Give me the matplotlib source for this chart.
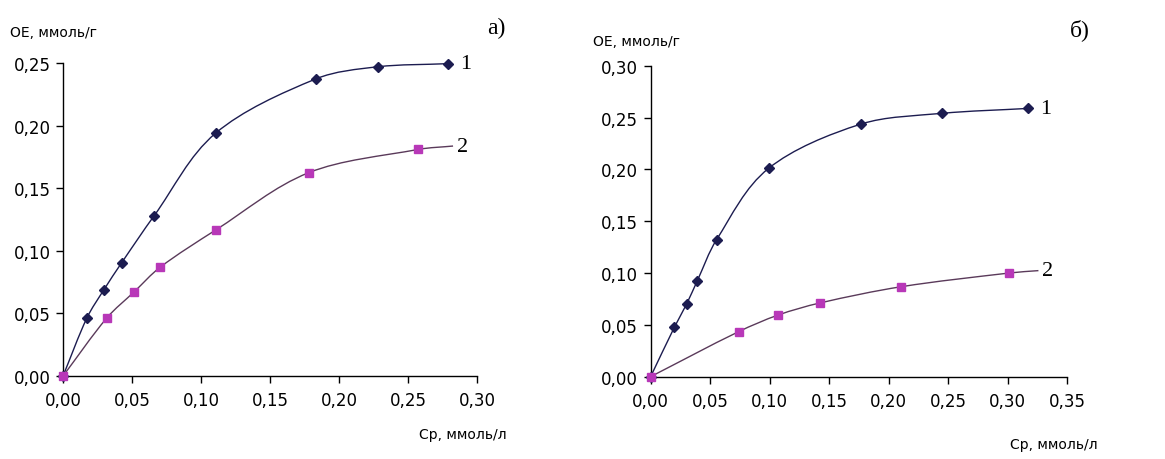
import numpy as np
import matplotlib
matplotlib.use("Agg")
from matplotlib import pyplot as plt
from matplotlib.path import Path
from matplotlib.patches import PathPatch

# panel a)
x1_a = [0.0, 0.0174, 0.0295, 0.0425, 0.066, 0.1106, 0.1836, 0.228, 0.2788]
y1_a = [0.0, 0.0466, 0.0687, 0.0905, 0.128, 0.194, 0.2375, 0.247, 0.2495]
x2_a = [0.0, 0.0319, 0.0517, 0.0705, 0.1106, 0.178, 0.2575]
y2_a = [0.0, 0.0466, 0.0674, 0.087, 0.1166, 0.1624, 0.181]
tail2_a = (0.2826, 0.1837)

# panel б)
x1_b = [0.0, 0.0199, 0.0302, 0.0392, 0.0554, 0.0991, 0.1767, 0.2444, 0.3172]
y1_b = [0.0, 0.0476, 0.0701, 0.0926, 0.1322, 0.201, 0.2437, 0.254, 0.2588]
x2_b = [0.0, 0.0739, 0.1072, 0.1422, 0.2106, 0.3013]
y2_b = [0.0, 0.0434, 0.0595, 0.0711, 0.0868, 0.1]
tail2_b = (0.3257, 0.1023)

y_label = "ОЕ, ммоль/г"
x_label = "Ср, ммоль/л"

C1 = "#1c1c50"
C2_LINE = "#5a3a5a"
C2_MARK = "#b838b8"


def smooth_path(xs, ys, xmax, ymax):
    """Smoothed line through the points (Bezier segments, tangents scaled
    by neighbouring segment lengths so uneven spacing does not overshoot)."""
    p = np.column_stack([xs, ys]).astype(float)
    q = p / [xmax, ymax]
    n = len(p)
    d = np.hypot(*np.diff(q, axis=0).T)
    tang = np.zeros_like(p)
    for i in range(1, n - 1):
        tang[i] = (p[i + 1] - p[i - 1]) / (d[i - 1] + d[i])
    verts = [p[0]]
    codes = [Path.MOVETO]
    for i in range(n - 1):
        c1 = p[i] + tang[i] * d[i] / 3.0 if i > 0 else p[i] + (p[i + 1] - p[i]) / 3.0
        c2 = p[i + 1] - tang[i + 1] * d[i] / 3.0 if i + 1 < n - 1 else p[i + 1] - (p[i + 1] - p[i]) / 3.0
        verts += [c1, c2, p[i + 1]]
        codes += [Path.CURVE4] * 3
    return Path(verts, codes)


def draw_panel(ax, x1, y1, x2, y2, tail2, xmax, ymax):
    ax.add_patch(PathPatch(smooth_path(x1, y1, xmax, ymax), fill=False,
                           edgecolor=C1, lw=1.0, clip_on=False))
    ax.add_patch(PathPatch(smooth_path(list(x2) + [tail2[0]], list(y2) + [tail2[1]], xmax, ymax),
                           fill=False, edgecolor=C2_LINE, lw=1.0, clip_on=False))
    ax.plot(x1, y1, linestyle="none", marker="D", ms=5.5, color=C1, zorder=3, clip_on=False)
    ax.plot(x2, y2, linestyle="none", marker="s", ms=6, color=C2_MARK, zorder=3, clip_on=False)

    ax.set_xlim(0, xmax)
    ax.set_ylim(0, ymax)
    ax.set_xticks(np.arange(0, xmax + 0.001, 0.05))
    ax.set_yticks(np.arange(0, ymax + 0.001, 0.05))
    ax.set_xticklabels([f"{v:.2f}".replace(".", ",") for v in ax.get_xticks()])
    ax.set_yticklabels([f"{v:.2f}".replace(".", ",") for v in ax.get_yticks()])
    for side in ("top", "right"):
        ax.spines[side].set_visible(False)
    for side in ("left", "bottom"):
        ax.spines[side].set_linewidth(1.0)
    ax.tick_params(direction="out", length=5, width=1.0, labelsize=12)
    ax.tick_params(axis="x", pad=6)
    ax.tick_params(axis="y", pad=4)

    ax.annotate("1", xy=(x1[-1], y1[-1]), xytext=(12, 0), textcoords="offset pixels",
                ha="left", va="center", family="Liberation Serif", fontsize=16)
    ax.annotate("2", xy=tail2, xytext=(4, 0), textcoords="offset pixels",
                ha="left", va="center", family="Liberation Serif", fontsize=16)


fig = plt.figure(figsize=(11.65, 4.6), dpi=100)
ax_a = fig.add_axes([0.0541, 0.1804, 0.3554, 0.6804])
ax_b = fig.add_axes([0.5585, 0.179, 0.3577, 0.676])

draw_panel(ax_a, x1_a, y1_a, x2_a, y2_a, tail2_a, 0.30, 0.25)
draw_panel(ax_b, x1_b, y1_b, x2_b, y2_b, tail2_b, 0.35, 0.30)

# axis titles and panel letters
fig.text(10 / 1165, 1 - 33 / 460, y_label, fontsize=10, va="center", ha="left")
fig.text(593 / 1165, 1 - 42 / 460, y_label, fontsize=10, va="center", ha="left")
fig.text(507 / 1165, 1 - 435 / 460, x_label, fontsize=10, va="center", ha="right")
fig.text(1098 / 1165, 1 - 445 / 460, x_label, fontsize=10, va="center", ha="right")
fig.text(496 / 1165, 1 - 28 / 460, "а)", fontsize=17, va="center", ha="center",
         family="Liberation Serif")
fig.text(1080 / 1165, 1 - 30 / 460, "б)", fontsize=17, va="center", ha="center",
         family="Liberation Serif")

fig.savefig("out.png", dpi=100, facecolor="white")
